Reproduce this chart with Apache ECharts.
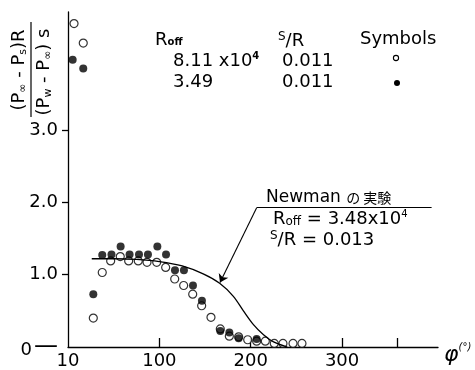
<!DOCTYPE html>
<html>
<head>
<meta charset="utf-8">
<script src="https://cdn.jsdelivr.net/npm/echarts@6/dist/echarts.min.js"></script>
<style>
  html, body { margin: 0; padding: 0; background: #fff; }
  #chart-holder { width: 475px; height: 370px; }
</style>
</head>
<body>
<div id="chart-holder"></div>
<script>
// Roff = 8.11x10^4, s/R = 0.011 (open circles)
var openPhi = [6.6, 16.7, 27.7, 37.5, 46.7, 57.2, 66.4, 76.9, 86.5, 97.1, 106.9, 116.8, 126.6,
  136.5, 146.3, 156.5, 166.7, 176.6, 186.8, 196.7, 206.5, 216, 225.8, 235.3, 246.3, 256.1];
var openVal = [4.47, 4.2, 0.4, 1.03, 1.19, 1.25, 1.19, 1.19, 1.17, 1.17, 1.1, 0.94, 0.85,
  0.73, 0.57, 0.41, 0.25, 0.15, 0.14, 0.1, 0.08, 0.08, 0.05, 0.05, 0.05, 0.05];

// Roff = 3.49x10^4, s/R = 0.011 (filled circles)
var fillPhi = [5.1, 16.7, 27.7, 37.5, 47.6, 57.6, 67.4, 77.7, 87.5, 97.8, 107.3, 117.1, 126.9,
  136.8, 146.6, 166.7, 176.6, 186.8, 206.5];
var fillVal = [3.97, 3.85, 0.73, 1.27, 1.28, 1.39, 1.28, 1.28, 1.28, 1.39, 1.28, 1.06, 1.06,
  0.85, 0.64, 0.22, 0.2, 0.12, 0.11];

// Newman's experiment, Roff = 3.48x10^4, s/R = 0.013
var newmanPhi = [26, 50, 75, 100, 125, 148, 166, 181, 192, 203, 214, 225, 240];
var newmanVal = [1.22, 1.22, 1.21, 1.18, 1.12, 1.01, 0.88, 0.7, 0.5, 0.31, 0.17, 0.07, 0];

// leader line for the Newman label: [phi, value]
var leaderCorner = [206.5, 1.925];
var leaderEnd = [398, 1.925];
var leaderTip = [166.4, 0.89];

var xTickValues = [100, 200, 300, 360];
var xLabelValues = [0, 100, 200, 300];
var xLabelText = ['10', '100', '200', '300'];
var yTickValues = [1, 2, 3];
var yLabelValues = [0, 1, 2, 3];
var yLabelText = ['0', '1.0', '2.0', '3.0'];

var font = 'DejaVu Sans';
var ink = '#000';

function pairs(xs, ys) {
  return xs.map(function (x, i) { return [x, ys[i]]; });
}

var dom = document.getElementById('chart-holder');
var myChart = echarts.init(dom, null, { renderer: 'canvas' });

var option = {
  animation: false,
  backgroundColor: '#fff',
  grid: { left: 68, right: 37, top: 12, bottom: 23 },
  xAxis: {
    type: 'value',
    min: 0,
    max: 405,
    interval: 100,
    splitLine: { show: false },
    axisLine: { lineStyle: { color: ink, width: 1.3 } },
    axisTick: { customValues: xTickValues, inside: true, length: 9, lineStyle: { color: ink, width: 1.3 } },
    axisLabel: {
      customValues: xLabelValues,
      margin: 5,
      fontFamily: font,
      fontSize: 18,
      color: ink,
      formatter: function (v) { return xLabelText[xLabelValues.indexOf(v)]; }
    },
    name: 'φ{sup|(°)}',
    nameLocation: 'end',
    nameGap: 6,
    nameTextStyle: {
      fontFamily: font, fontSize: 22, color: ink, fontStyle: 'italic', padding: [16, 0, 0, 0],
      rich: { sup: { fontFamily: font, fontSize: 10, color: ink, padding: [0, 0, 16, 0] } }
    }
  },
  yAxis: {
    type: 'value',
    min: 0,
    max: 4.63,
    interval: 1,
    splitLine: { show: false },
    axisLine: { lineStyle: { color: ink, width: 1.3 } },
    axisTick: { customValues: yTickValues, length: 6, lineStyle: { color: ink, width: 1.3 } },
    axisLabel: {
      customValues: yLabelValues,
      margin: 10,
      fontFamily: font,
      fontSize: 18,
      color: ink,
      formatter: function (v) {
        var t = yLabelText[yLabelValues.indexOf(v)];
        return v === 0 ? '{z|' + t + '}{d|—}' : t;
      },
      rich: {
        z: { fontFamily: font, fontSize: 18, color: ink, padding: [6, 2, 0, 0] },
        d: { fontFamily: font, fontSize: 24, color: ink }
      }
    }
  },
  series: [
    {
      type: 'line',
      name: 'Newman',
      data: pairs(newmanPhi, newmanVal),
      smooth: 0.3,
      showSymbol: false,
      lineStyle: { color: ink, width: 1.3 },
      markLine: {
        silent: true,
        label: { show: false },
        lineStyle: { color: ink, width: 1.1, type: 'solid' },
        data: [
          [{ coord: leaderEnd, symbol: 'none' }, { coord: leaderCorner, symbol: 'none' }],
          [{ coord: leaderCorner, symbol: 'none' }, { coord: leaderTip, symbol: 'arrow', symbolSize: 8 }]
        ]
      }
    },
    {
      type: 'scatter',
      name: '8.11x10^4',
      data: pairs(openPhi, openVal),
      symbol: 'circle',
      symbolSize: 8,
      itemStyle: { color: '#fff', borderColor: ink, borderWidth: 1.2 }
    },
    {
      type: 'scatter',
      name: '3.49x10^4',
      data: pairs(fillPhi, fillVal),
      symbol: 'circle',
      symbolSize: 8,
      itemStyle: { color: ink }
    }
  ],
  graphic: [
    // y axis title, a rotated fraction
    {
      type: 'text', x: 19, y: 70, rotation: Math.PI / 2,
      style: {
        text: '(P{s|∞} - P{s|s})R', font: '18px "DejaVu Sans"', fill: ink,
        align: 'center', verticalAlign: 'middle',
        rich: { s: { fontFamily: font, fontSize: 11, fill: ink, padding: [8, 0, 0, 0] } }
      }
    },
    { type: 'line', shape: { x1: 31, y1: 22, x2: 31, y2: 117 }, style: { stroke: ink, lineWidth: 1.2 } },
    {
      type: 'text', x: 44, y: 72, rotation: Math.PI / 2,
      style: {
        text: '(P{s|w} - P{s|∞}) s', font: '18px "DejaVu Sans"', fill: ink,
        align: 'center', verticalAlign: 'middle',
        rich: { s: { fontFamily: font, fontSize: 11, fill: ink, padding: [8, 0, 0, 0] } }
      }
    },
    // key table at the top
    {
      type: 'text', left: 155, top: 31,
      style: { text: 'R{o|off}', font: '18px "DejaVu Sans"', fill: ink,
        rich: { o: { fontFamily: font, fontSize: 10, fontWeight: 'bold', fill: ink, padding: [5, 0, 0, 0] } } }
    },
    {
      type: 'text', left: 278, top: 31,
      style: { text: '{s|S}/R', font: '18px "DejaVu Sans"', fill: ink,
        rich: { s: { fontFamily: font, fontSize: 12, fill: ink, padding: [0, 0, 8, 0] } } }
    },
    { type: 'text', left: 360, top: 30, style: { text: 'Symbols', font: '18px "DejaVu Sans"', fill: ink } },
    {
      type: 'text', left: 173, top: 51,
      style: { text: '8.11 x10{p|4}', font: '18px "DejaVu Sans"', fill: ink,
        rich: { p: { fontFamily: font, fontSize: 10, fontWeight: 'bold', fill: ink, padding: [0, 0, 10, 0] } } }
    },
    { type: 'text', left: 282, top: 52, style: { text: '0.011', font: '18px "DejaVu Sans"', fill: ink } },
    { type: 'circle', shape: { cx: 396, cy: 58, r: 2.6 }, style: { fill: '#fff', stroke: ink, lineWidth: 1.1 } },
    { type: 'text', left: 173, top: 73, style: { text: '3.49', font: '18px "DejaVu Sans"', fill: ink } },
    { type: 'text', left: 282, top: 73, style: { text: '0.011', font: '18px "DejaVu Sans"', fill: ink } },
    { type: 'circle', shape: { cx: 397, cy: 83, r: 3 }, style: { fill: ink } },
    // Newman label
    {
      type: 'text', left: 266, top: 189,
      style: { text: 'Newman {j|の 実験}', font: '17px "DejaVu Sans"', fill: ink,
        rich: { j: { fontFamily: 'Noto Sans CJK JP', fontSize: 14, fill: ink } } }
    },
    {
      type: 'text', left: 273, top: 209,
      style: { text: 'R{o|off} = 3.48x10{p|4}', font: '18px "DejaVu Sans"', fill: ink,
        rich: {
          o: { fontFamily: font, fontSize: 12, fill: ink, padding: [5, 0, 0, 0] },
          p: { fontFamily: font, fontSize: 10, fill: ink, padding: [0, 0, 10, 0] }
        } }
    },
    {
      type: 'text', left: 270, top: 230,
      style: { text: '{s|S}/R = 0.013', font: '18px "DejaVu Sans"', fill: ink,
        rich: { s: { fontFamily: font, fontSize: 12, fill: ink, padding: [0, 0, 8, 0] } } }
    }
  ]
};

if (option && typeof option === 'object') {
  myChart.setOption(option);
}
</script>
</body>
</html>
